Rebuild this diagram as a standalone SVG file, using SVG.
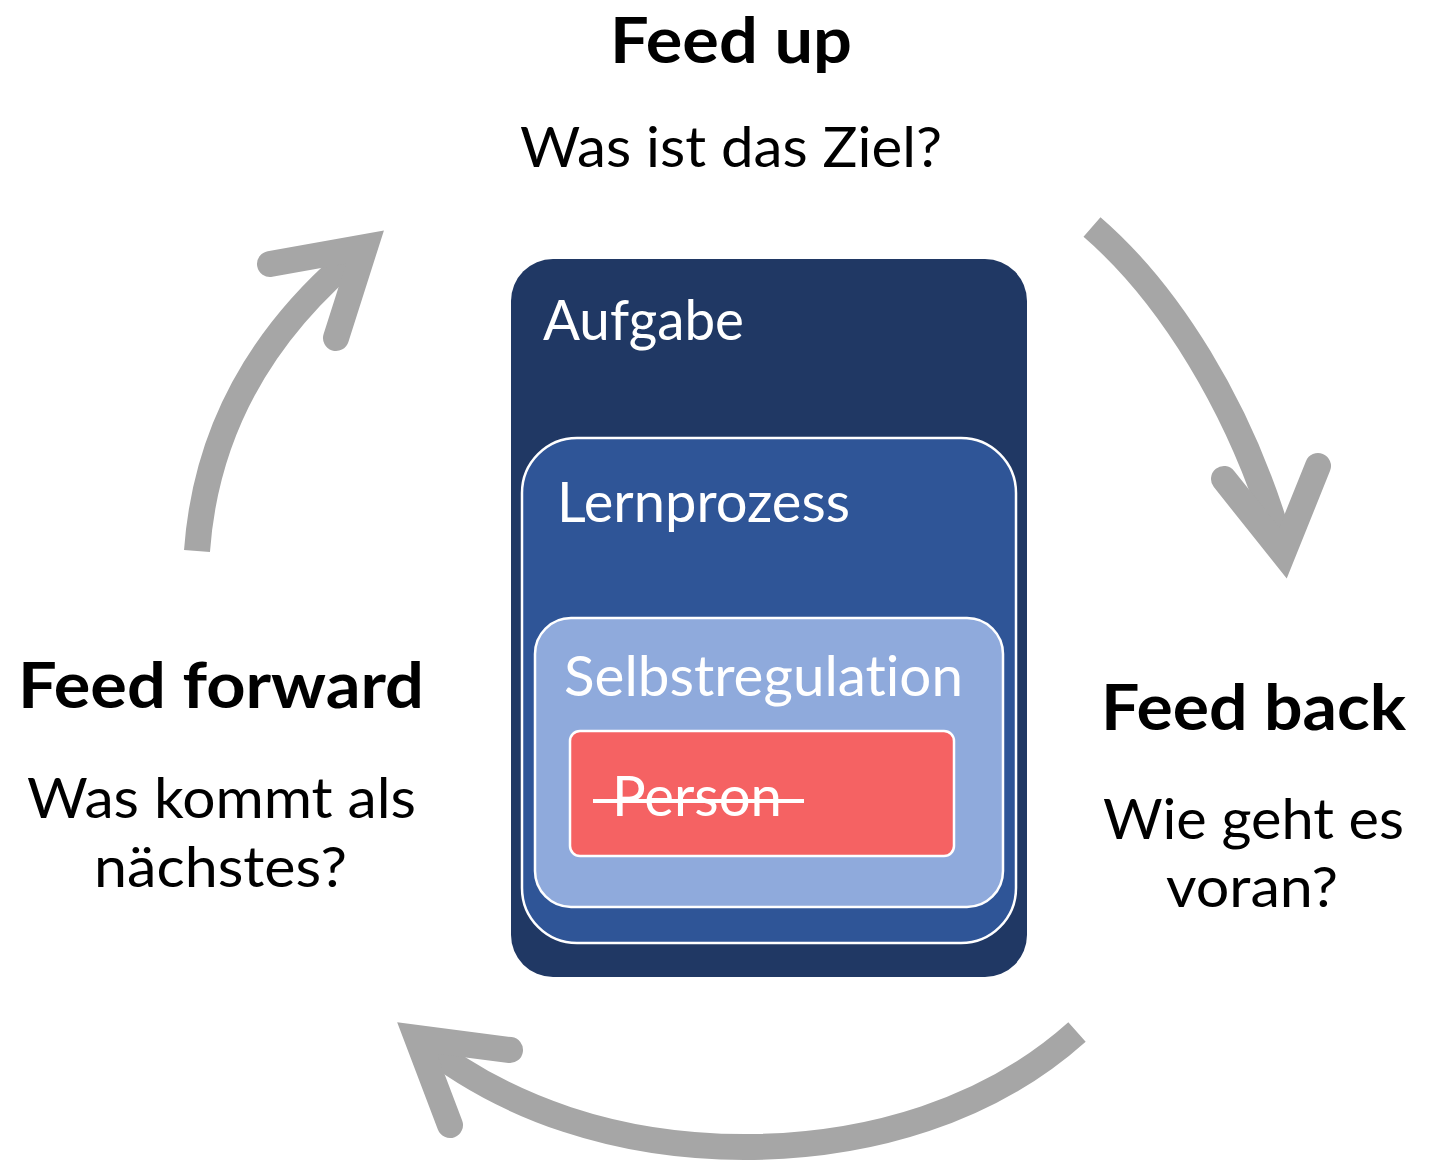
<svg xmlns="http://www.w3.org/2000/svg" width="1437" height="1160" viewBox="0 0 1437 1160">
<style>
.t{font-family:Lato,"Open Sans","Liberation Sans",sans-serif;font-size:56px;fill:#000;font-variant-ligatures:none}
.h{font-family:Lato,"Open Sans","Liberation Sans",sans-serif;font-size:64px;font-weight:bold;fill:#000;font-variant-ligatures:none}
.w{fill:#fff}
.shaft{fill:none;stroke:#A6A6A6;stroke-width:26;stroke-linecap:butt}
.head{fill:none;stroke:#A6A6A6;stroke-width:26;stroke-linecap:round;stroke-linejoin:miter}
.box{stroke:#fff;stroke-width:2.5}
</style>
<rect width="1437" height="1160" fill="#fff"/>
<g id="connectors">
  <g id="arrow-forward-up">
    <path class="shaft" d="M197,551 C205,440 255,335 365,247"/>
    <path class="head" d="M270,264 L365,247 L336,338"/>
  </g>
  <g id="arrow-up-back">
    <path class="shaft" d="M1092,227 C1165,290 1242,405 1283,553"/>
    <path class="head" d="M1224,479 L1283,553 L1318,466"/>
  </g>
  <g id="arrow-back-forward">
    <path class="shaft" d="M1077,1032 C990,1110 870,1147 744,1147 C620,1147 505,1110 417,1038"/>
    <path class="head" d="M510,1050 L417,1038 L450,1125"/>
  </g>
</g>
<g id="feed-up">
  <text class="h" x="610" y="63" textLength="242" lengthAdjust="spacingAndGlyphs">Feed up</text>
  <text class="t" x="520" y="167" textLength="422" lengthAdjust="spacingAndGlyphs">Was ist das Ziel?</text>
</g>
<g id="feed-back">
  <text class="h" x="1101" y="730" textLength="305" lengthAdjust="spacingAndGlyphs">Feed back</text>
  <text class="t" x="1103" y="839" textLength="301" lengthAdjust="spacingAndGlyphs">Wie geht es</text>
  <text class="t" x="1166" y="907" textLength="172" lengthAdjust="spacingAndGlyphs">voran?</text>
</g>
<g id="feed-forward">
  <text class="h" x="18" y="708" textLength="406" lengthAdjust="spacingAndGlyphs">Feed forward</text>
  <text class="t" x="27" y="818" textLength="389" lengthAdjust="spacingAndGlyphs">Was kommt als</text>
  <text class="t" x="94" y="887" textLength="253" lengthAdjust="spacingAndGlyphs">nächstes?</text>
</g>
<g id="aufgabe">
  <rect x="511" y="259" width="516" height="718" rx="42" fill="#203864"/>
  <text class="t w" x="543" y="340" textLength="201" lengthAdjust="spacingAndGlyphs">Aufgabe</text>
</g>
<g id="lernprozess">
  <rect class="box" x="522" y="438" width="494" height="505" rx="55" fill="#2F5597"/>
  <text class="t w" x="557" y="522" textLength="293" lengthAdjust="spacingAndGlyphs">Lernprozess</text>
</g>
<g id="selbstregulation">
  <rect class="box" x="535" y="618" width="468" height="289" rx="36" fill="#8FAADC"/>
  <text class="t w" x="564" y="696" textLength="399" lengthAdjust="spacingAndGlyphs">Selbstregulation</text>
</g>
<g id="person">
  <rect class="box" x="570" y="731" width="384" height="125" rx="10" fill="#F56263"/>
  <text class="t w" x="612" y="816" textLength="170" lengthAdjust="spacingAndGlyphs">Person</text>
  <line x1="593" y1="801" x2="804" y2="801" stroke="#fff" stroke-width="4"/>
</g>
</svg>
